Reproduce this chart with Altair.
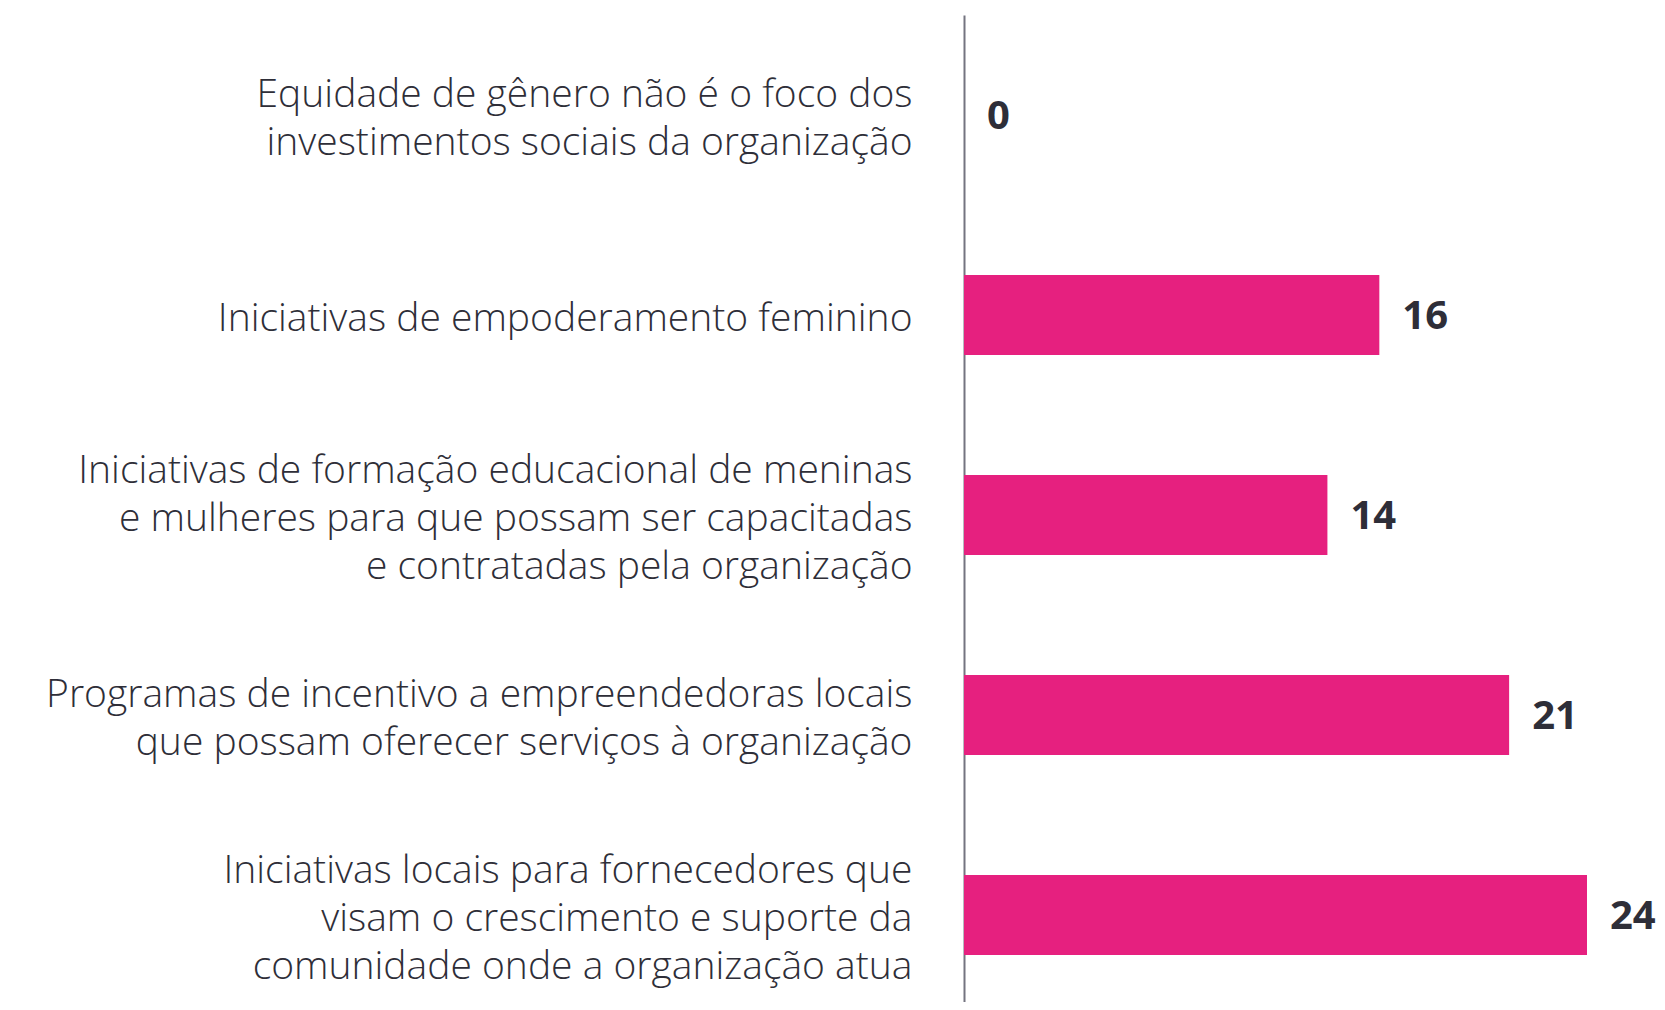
import altair as alt
import pandas as pd

categories = [
    "Equidade de gênero não é o foco dos|investimentos sociais da organização",
    "Iniciativas de empoderamento feminino",
    "Iniciativas de formação educacional de meninas|e mulheres para que possam ser capacitadas|e contratadas pela organização",
    "Programas de incentivo a empreendedoras locais|que possam oferecer serviços à organização",
    "Iniciativas locais para fornecedores que|visam o crescimento e suporte da|comunidade onde a organização atua",
]
values = [0, 16, 14, 21, 24]

df = pd.DataFrame({"cat": categories, "val": values})

FONT = "Open Sans"
DARK = "#2e2e38"
LH = 48
BASE = 4

y = alt.Y(
    "cat:N",
    sort=categories,
    title=None,
    scale=alt.Scale(paddingInner=0.6, paddingOuter=0.3, range=[0, 1000]),
    axis=alt.Axis(
        labelExpr="split(datum.label, '|')",
        labelFont=FONT,
        labelFontWeight=300,
        labelFontSize=39,
        labelLineHeight=LH,
        labelColor=DARK,
        labelPadding=52,
        labelLimit=1000,
        labelOffset={
            "condition": [
                {"test": "length(split(datum.value, '|')) == 2", "value": BASE - LH / 2},
                {"test": "length(split(datum.value, '|')) == 3", "value": BASE - LH},
            ],
            "value": BASE,
        },
        ticks=False,
        grid=False,
        domainColor="#747480",
        domainWidth=2,
        labelAlign="right",
        labelBaseline="middle",
    ),
)
x = alt.X(
    "val:Q",
    title=None,
    scale=alt.Scale(domain=[0, 24], nice=False),
    axis=None,
)

bars = alt.Chart(df).mark_bar(color="#E6207F").encode(x=x, y=y)
labels = alt.Chart(df).mark_text(
    align="left", baseline="middle", dx=23, dy=2, font=FONT, fontWeight="bold",
    fontSize=40, color=DARK,
).encode(x=x, y=y, text="val:Q")

chart = (bars + labels).properties(
    width=623,
    height=987,
    background="white",
    autosize=alt.AutoSizeParams(type="none"),
    padding={"left": 956, "top": 7, "right": 70, "bottom": 0},
).configure_view(stroke=None, strokeWidth=0)

chart.save("out.html", embed_options={"renderer": "svg", "actions": False})
